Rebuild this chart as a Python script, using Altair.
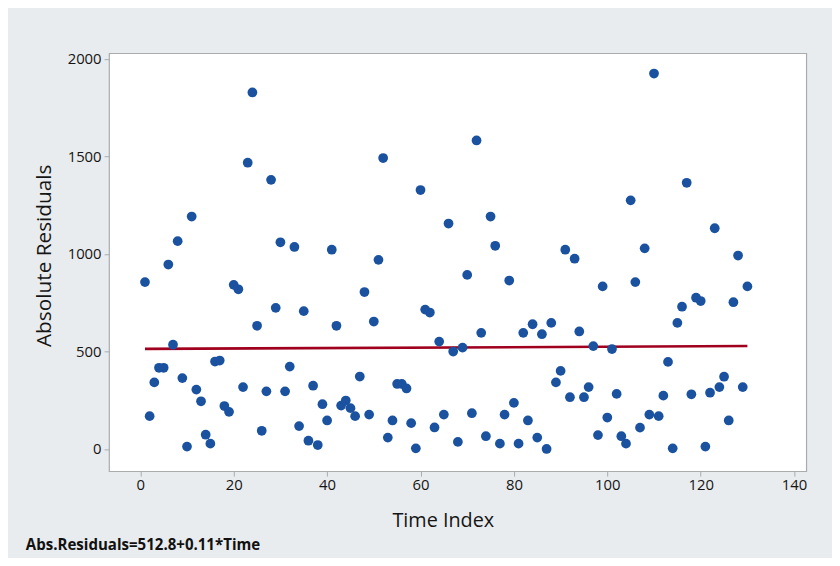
import altair as alt
import pandas as pd

# ---- data ----
time_index = list(range(1, 131))
abs_residuals = [
    855, 168, 341, 416, 416, 945, 534, 1065, 363, 12,
    1191, 304, 244, 73, 27, 448, 453, 220, 190, 841,
    818, 317, 1467, 1827, 631, 93, 295, 1379, 723, 1059,
    295, 422, 1035, 117, 706, 42, 324, 20, 229, 146,
    1021, 631, 222, 248, 209, 168, 371, 804, 176, 653,
    969, 1491, 58, 146, 333, 333, 310, 132, 3, 1327,
    714, 699, 110, 550, 176, 1155, 499, 36, 519, 892,
    183, 1581, 595, 65, 1191, 1041, 27, 176, 863, 236,
    27, 595, 146, 639, 58, 588, 0, 646, 341, 400,
    1021, 265, 975, 602, 265, 317, 527, 71, 833, 161,
    512, 282, 65, 27, 1274, 855, 109, 1028, 176, 1924,
    168, 273, 446, 3, 646, 729, 1364, 280, 775, 758,
    12, 288, 1131, 317, 370, 146, 752, 991, 317, 833,
]
x_ticks = [0, 20, 40, 60, 80, 100, 120, 140]
y_ticks = [0, 500, 1000, 1500, 2000]
intercept = 512.8
slope = 0.11
fit_x = [1, 130]
footnote = "Abs.Residuals=512.8+0.11*Time"

df = pd.DataFrame({"t": time_index, "v": abs_residuals})
fit_df = pd.DataFrame({"t": fit_x, "v": [intercept + slope * x for x in fit_x]})

FONT = "Open Sans"
BG = "#E9ECEE"
FRAME = "#A9ACAF"
TXT = "#151515"

xs = alt.Scale(domain=[-6.7, 142.6], nice=False, zero=False)
ys = alt.Scale(domain=[-114, 2028], nice=False, zero=False)

x_axis = alt.Axis(values=x_ticks, title="Time Index", grid=False, domain=False,
                  format="d", tickColor=FRAME, tickSize=5, labelFontSize=15, labelPadding=2,
                  labelColor=TXT, titleFontSize=20, titleFontWeight="normal",
                  titleColor=TXT, titlePadding=18, titleX=337,
                  labelFont=FONT, titleFont=FONT)
y_axis = alt.Axis(values=y_ticks, title="Absolute Residuals", grid=False, domain=False,
                  format="d", tickColor=FRAME, tickSize=5, labelFontSize=15, labelPadding=3,
                  labelColor=TXT, titleFontSize=21, titleFontWeight="normal",
                  titleColor=TXT, titlePadding=13, titleY=204,
                  labelFont=FONT, titleFont=FONT)

line = alt.Chart(fit_df).mark_line(color="#A0001E", strokeWidth=2.6).encode(
    x=alt.X("t:Q", scale=xs, axis=x_axis),
    y=alt.Y("v:Q", scale=ys, axis=y_axis),
)

points = alt.Chart(df).mark_circle(size=97, color="#1A52A0", opacity=1).encode(
    x=alt.X("t:Q", scale=xs),
    y=alt.Y("v:Q", scale=ys),
)

note = alt.Chart(pd.DataFrame({"label": [footnote]})).mark_text(
    align="left", baseline="middle", fontSize=15.2, fontWeight="bold",
    font=FONT, color="#111111"
).encode(x=alt.value(-84), y=alt.value(497), text="label:N")

chart = alt.layer(line, points, note).properties(
    width=704, height=422,
    background=BG,
    padding={"left": 102, "top": 43, "right": 26, "bottom": 85},
    autosize=alt.AutoSizeParams(type="none"),
).configure_view(fill="white", stroke=FRAME, strokeWidth=1.2)

chart.save("out.html", embed_options={"renderer": "svg", "actions": False})
